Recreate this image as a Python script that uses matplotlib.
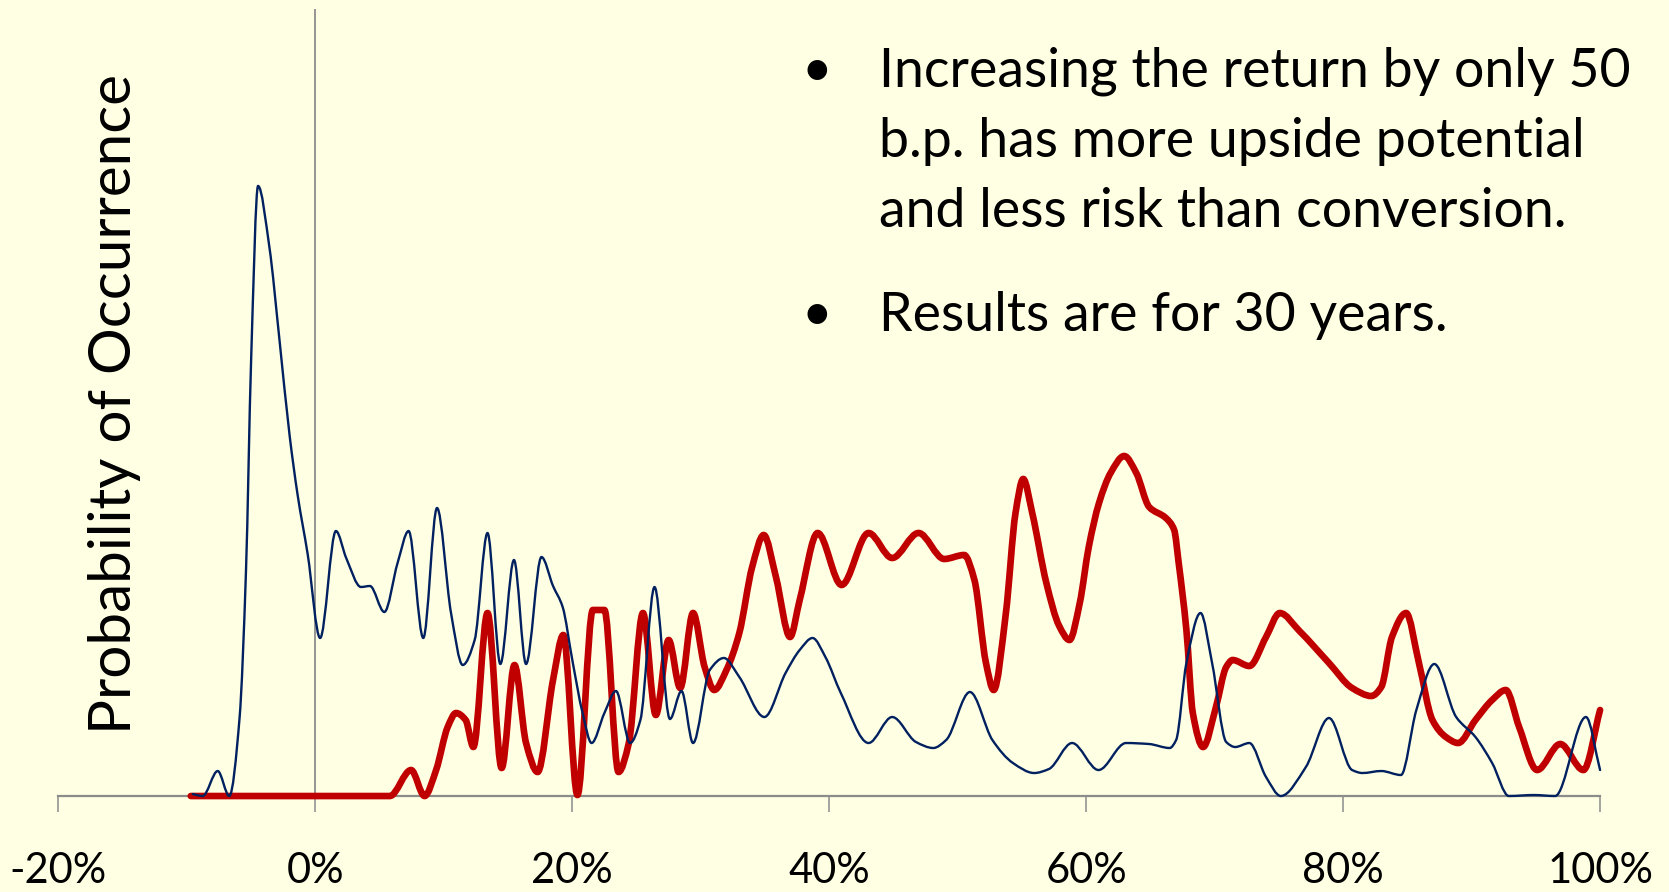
import matplotlib

matplotlib.use("Agg")
import matplotlib.pyplot as plt
import numpy as np
from matplotlib.patches import PathPatch
from matplotlib.path import Path

# Return distribution after 30 years (probability in %, by return in %)
BLUE_X = [-9.55, -8.77, -7.6, -6.7, -5.9, -5.4, -5.0, -4.46, -3.58, -2.8, -2.0, -1.38, -0.6,
          0.37, 1.6, 2.4, 3.55, 4.25, 5.37, 6.4, 7.26, 8.4, 9.47, 10.56, 11.47, 12.4, 13.4,
          14.4, 15.46, 16.4, 17.6, 18.5, 19.25, 20.0, 20.8, 21.5, 22.5, 23.4, 24.5, 25.3,
          26.4, 27.6, 28.5, 29.4, 30.7, 31.8, 33.0, 34.95, 36.6, 37.7, 38.7, 39.7, 40.9,
          43.06, 44.9, 46.75, 48.1, 49.1, 50.95, 52.7, 54.3, 55.95, 57.1, 58.9, 60.96, 63.1,
          64.9, 66.5, 67.0, 67.8, 68.9, 69.8, 70.9, 71.6, 72.7, 74.0, 75.15, 77.1, 78.9,
          80.7, 81.5, 82.97, 84.5, 85.7, 87.1, 88.8, 90.3, 91.6, 92.9, 94.85, 96.5, 98.9,
          100.0]
BLUE_P = [0.02, 0.0, 0.25, 0.0, 0.78, 2.25, 4.36, 6.10, 5.49, 4.57, 3.60, 3.01, 2.42,
          1.58, 2.65, 2.38, 2.09, 2.10, 1.84, 2.33, 2.65, 1.58, 2.88, 1.83, 1.31, 1.56, 2.63,
          1.32, 2.36, 1.32, 2.39, 2.10, 1.89, 1.36, 0.83, 0.53, 0.83, 1.05, 0.53, 0.76,
          2.09, 0.77, 1.05, 0.53, 1.26, 1.38, 1.19, 0.79, 1.23, 1.46, 1.58, 1.39, 1.03,
          0.53, 0.79, 0.54, 0.48, 0.56, 1.04, 0.56, 0.33, 0.23, 0.27, 0.53, 0.26, 0.53,
          0.52, 0.48, 0.56, 1.33, 1.83, 1.33, 0.54, 0.49, 0.53, 0.19, 0.0, 0.29, 0.78,
          0.26, 0.23, 0.25, 0.21, 0.86, 1.32, 0.79, 0.59, 0.33, 0.0, 0.01, 0.0, 0.79,
          0.26]

RED_X = [-9.7, 5.8, 7.45, 8.5, 9.4, 10.3, 10.95, 11.7, 12.3, 13.4, 14.5, 15.5, 16.4, 17.3,
         18.5, 19.3, 20.4, 21.6, 22.5, 23.6, 24.4, 25.5, 26.5, 27.5, 28.4, 29.4, 30.3, 31.05,
         32.0, 33.0, 34.0, 34.9, 35.85, 36.95, 37.7, 39.1, 40.96, 43.06, 44.9, 46.95, 48.95,
         50.5, 51.3, 52.2, 52.8, 53.75, 54.5, 55.1, 55.8, 56.9, 57.9, 58.7, 59.5, 60.2,
         61.0, 61.9, 62.96, 63.9, 64.9, 66.2, 66.85, 67.2, 67.8, 68.3, 69.1, 70.1, 70.9,
         71.4, 72.7, 74.0, 75.07, 76.6, 78.9, 80.7, 82.2, 82.97, 83.8, 84.9, 85.9, 86.95,
         88.0, 88.95, 90.3, 91.6, 92.66, 93.7, 95.1, 96.9, 98.7, 100.0]
RED_P = [0.0, 0.0, 0.26, 0.0, 0.26, 0.69, 0.83, 0.76, 0.49, 1.83, 0.28, 1.31, 0.53, 0.24,
         1.16, 1.61, 0.01, 1.86, 1.86, 0.24, 0.53, 1.83, 0.81, 1.56, 1.08, 1.83, 1.29, 1.06,
         1.26, 1.63, 2.29, 2.61, 2.19, 1.59, 1.96, 2.63, 2.11, 2.63, 2.38, 2.63, 2.37,
         2.41, 2.16, 1.33, 1.06, 1.83, 2.83, 3.17, 2.83, 2.13, 1.70, 1.56, 1.93, 2.49,
         2.93, 3.23, 3.40, 3.23, 2.89, 2.78, 2.66, 2.33, 1.66, 0.83, 0.49, 0.89, 1.29,
         1.36, 1.30, 1.59, 1.83, 1.65, 1.33, 1.08, 1.00, 1.09, 1.59, 1.83, 1.33, 0.76,
         0.59, 0.53, 0.76, 0.96, 1.06, 0.69, 0.26, 0.52, 0.26, 0.86]

X_TICKS = [-20, 0, 20, 40, 60, 80, 100]
X_TICK_LABELS = ["-20%", "0%", "20%", "40%", "60%", "80%", "100%"]

BULLETS = [
    ["Increasing the return by only 50", "b.p. has more upside potential",
     "and less risk than conversion."],
    ["Results are for 30 years."],
]

BG = "#FFFFE3"
RED = "#C00000"
NAVY = "#002060"
GRAY = "#8C8C8C"
FONT = "Lato"
W, H = 1669, 892


def _smooth_path(xs, ys):
    """Cubic Bezier path through the points with shape-preserving tangents."""
    x = np.asarray(xs, float)
    y = np.asarray(ys, float)
    h = np.diff(x)
    d = np.diff(y) / h
    m = np.zeros_like(y)
    for i in range(1, len(x) - 1):
        if d[i - 1] * d[i] > 0:
            w1 = 2 * h[i] + h[i - 1]
            w2 = h[i] + 2 * h[i - 1]
            m[i] = (w1 + w2) / (w1 / d[i - 1] + w2 / d[i])
    m[0], m[-1] = d[0], d[-1]
    verts = [(x[0], y[0])]
    codes = [Path.MOVETO]
    for i in range(len(x) - 1):
        verts += [
            (x[i] + h[i] / 3, y[i] + m[i] * h[i] / 3),
            (x[i + 1] - h[i] / 3, y[i + 1] - m[i + 1] * h[i] / 3),
            (x[i + 1], y[i + 1]),
        ]
        codes += [Path.CURVE4] * 3
    return Path(verts, codes)


fig = plt.figure(figsize=(W / 100, H / 100), dpi=100, facecolor=BG)
ax = fig.add_axes([0.035, 0.1076, 0.9237, 0.8824])
ax.set_facecolor(BG)

ax.axvline(0, color=GRAY, lw=1.3, zorder=1)
ax.add_patch(PathPatch(_smooth_path(RED_X, RED_P), fill=False, ec=RED, lw=4.8,
                       capstyle="round", joinstyle="round", clip_on=False, zorder=3))
ax.add_patch(PathPatch(_smooth_path(BLUE_X, BLUE_P), fill=False, ec=NAVY, lw=1.7,
                       capstyle="round", joinstyle="round", clip_on=False, zorder=4))

ax.set_xlim(-20, 100)
ax.set_ylim(0, 7.87)
for side in ("top", "right", "left"):
    ax.spines[side].set_visible(False)
ax.spines["bottom"].set_color(GRAY)
ax.spines["bottom"].set_linewidth(1.6)
ax.set_yticks([])
ax.set_xticks(X_TICKS, X_TICK_LABELS, fontsize=30, family=FONT)
ax.tick_params(axis="x", length=11.5, width=1.1, color=GRAY, pad=29)

fig.text(115 / W, 1 - 404 / H, "Probability of Occurrence", rotation=90,
         fontsize=42, family=FONT, ha="center", va="center")

y = 86
for lines in BULLETS:
    fig.text(801 / W, 1 - y / H, "\u2022", fontsize=38, family=FONT, va="baseline")
    for line in lines:
        fig.text(879 / W, 1 - y / H, line, fontsize=38.6, family=FONT, va="baseline")
        y += 70.5
    y += 33

fig.savefig("out.png", dpi=100, facecolor=BG)
